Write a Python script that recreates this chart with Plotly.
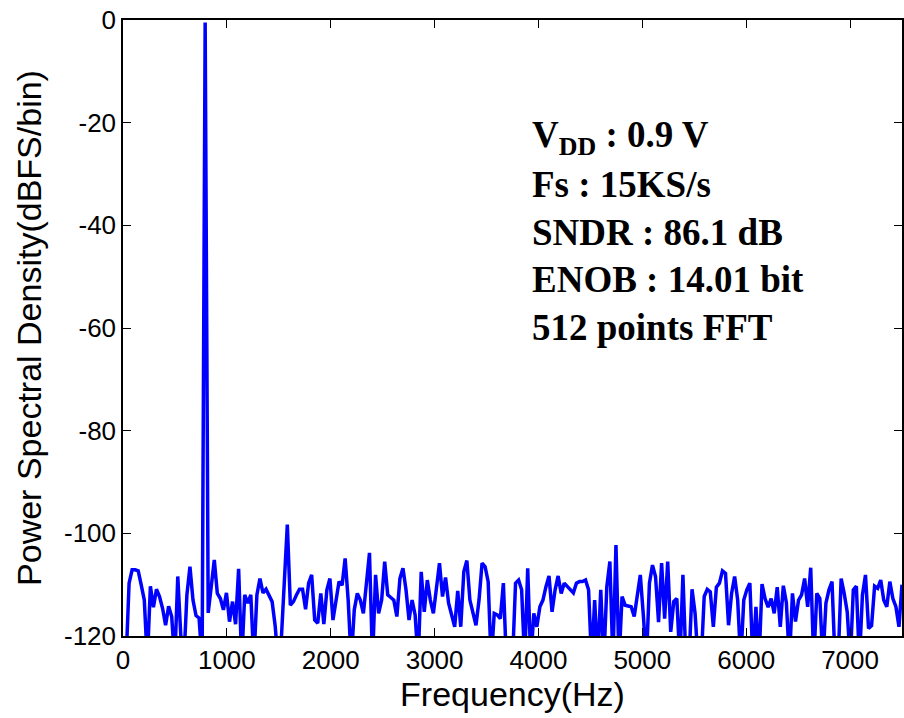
import plotly.graph_objects as go

# ---- data ----
FS = 15000.0        # sampling rate (Hz)
NFFT = 512          # FFT length
psd_db = [
    -125, -125, -109.7, -107.1, -107.1, -107.3, -110.1, -113, -125, -110.3,
    -114.4, -110.9, -112.3, -114.6, -117.9, -114.2, -116.2, -125, -108.4, -120,
    -125, -112, -106.5, -113, -116, -116.5, -125, -0.5, -115.5, -110,
    -105.2, -111.7, -112.7, -114.9, -111.6, -117.2, -113.3, -117.7, -106.9, -125,
    -112, -113.6, -112, -125, -112, -108.8, -111.6, -110.9, -112.3, -113.3,
    -118, -125, -121, -109, -98.3, -114, -113.3, -112, -110.9, -110.9,
    -114.8, -109.7, -108.1, -116.9, -117.5, -111.7, -117.7, -111, -108.8, -116.9,
    -113, -109.4, -110.1, -104.9, -113, -125, -114.9, -111.7, -113, -115.6,
    -109.7, -103.8, -125, -108.1, -115.6, -113, -105.5, -112, -112.5, -113,
    -116.2, -108.8, -106.8, -111, -116.9, -113, -115.9, -125, -107.5, -115.3,
    -109.1, -113, -115.6, -110.4, -105.8, -112.3, -108.6, -113.6, -115.9, -118.2,
    -111.2, -118.2, -107.5, -105.3, -113, -115.6, -117.9, -113, -105.8, -106.5,
    -109.4, -125, -115.6, -115.9, -116.6, -109.7, -125, -121, -125, -109.7,
    -109.1, -111, -125, -106.8, -125, -115.6, -118.2, -114.3, -113, -110.4,
    -108.3, -115.3, -111, -108.3, -111.7, -109.7, -110.3, -111, -111.6, -109.7,
    -109.4, -109.4, -109.1, -111, -125, -113, -125, -111, -125, -110.4,
    -105.5, -125, -102.3, -125, -112.3, -114, -114.2, -114.3, -116.2, -111.7,
    -108.1, -116, -125, -109.7, -106.2, -108.4, -117.3, -105.8, -116.6, -105.5,
    -119.2, -113.3, -112.7, -125, -108.1, -125, -125, -110.9, -115.6, -125,
    -125, -112.3, -110.9, -111.4, -118.2, -110.5, -109.7, -107.3, -107.8, -117.9,
    -111.7, -108.4, -113, -125, -113, -111, -109.7, -125, -114.3, -125,
    -109.9, -112.7, -114.4, -112.7, -115.6, -110.5, -118.2, -110.2, -113.5, -125,
    -111.7, -117.2, -113, -112, -108.8, -114.3, -106.7, -125, -111.7, -112.7,
    -125, -113.6, -111, -109.4, -125, -125, -108.8, -111.7, -115.3, -125,
    -111, -110.3, -125, -112, -108.1, -118.5, -118, -110.3, -110.7, -109.1,
    -113, -114.3, -109.4, -112.7, -114.3, -118.2, -110,
]
freq_hz = [k * FS / NFFT for k in range(len(psd_db))]

x_ticks = [0, 1000, 2000, 3000, 4000, 5000, 6000, 7000]
y_ticks = [-120, -100, -80, -60, -40, -20, 0]

info_lines = [
    "V<sub>DD</sub> : 0.9 V",
    "Fs : 15KS/s",
    "SNDR : 86.1 dB",
    "ENOB : 14.01 bit",
    "512 points FFT",
]

# ---- figure ----
fig = go.Figure()
fig.add_trace(go.Scatter(
    x=freq_hz, y=psd_db, mode="lines",
    line=dict(color="#0000FF", width=3.5),
    showlegend=False, hoverinfo="x+y",
))

W, H = 904, 718
L, R, T, B = 123, 0, 20, 82
ph = H - T - B

sans = "Liberation Sans, Arial, Helvetica, sans-serif"
serif = "Liberation Serif, Times New Roman, serif"

axis_common = dict(
    showline=True, linecolor="black", linewidth=1.5, mirror="allticks",
    ticks="inside", ticklen=8, tickwidth=1.2, tickcolor="black",
    showgrid=False, zeroline=False,
    tickfont=dict(family=sans, size=26, color="black"),
)

fig.update_xaxes(
    range=[0, 7500], tickvals=x_ticks, ticktext=[str(v) for v in x_ticks],
    title=dict(text="Frequency(Hz)", font=dict(family=sans, size=34, color="black"), standoff=7),
    **axis_common,
)
fig.update_yaxes(
    range=[-120, 0], tickvals=y_ticks, ticktext=[str(v) for v in y_ticks],
    title=dict(text="Power Spectral Density(dBFS/bin)", font=dict(family=sans, size=34, color="black"), standoff=12),
    **axis_common,
)

line_centers_px = [137, 184.6, 232.2, 279.8, 327.5]
for txt, yc in zip(info_lines, line_centers_px):
    fig.add_annotation(
        x=(531 - L) / (W - L - R), y=(H - B - yc) / ph,
        xref="paper", yref="paper", xanchor="left", yanchor="middle",
        text="<b>" + txt + "</b>", showarrow=False,
        font=dict(family=serif, size=37, color="black"),
    )

fig.update_layout(
    width=W, height=H,
    margin=dict(l=L, r=R, t=T, b=B, pad=0),
    paper_bgcolor="white", plot_bgcolor="white",
)

fig.write_html("out.html")
